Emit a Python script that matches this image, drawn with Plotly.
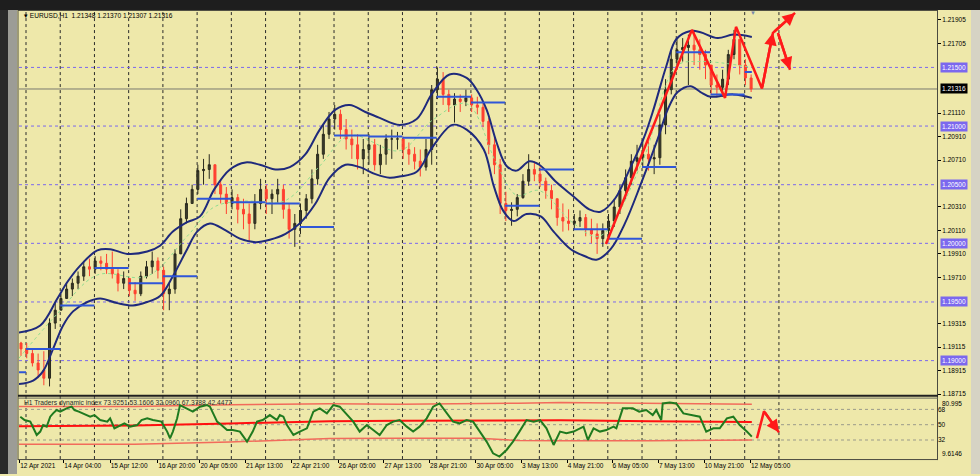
import plotly.graph_objects as go

W, H = 980, 476

# ---------------- DATA ----------------
# H1 candles aggregated in groups of 4 bars (first bar = 12 Apr 19:00)
first_open = 1.1915
close = [1.1910, 1.1906, 1.1898, 1.1892, 1.1885, 1.1932, 1.1943, 1.1953, 1.1961, 1.1966,
         1.1972, 1.1980, 1.1978, 1.1985, 1.1983, 1.1978, 1.1974, 1.1966, 1.1970, 1.1960,
         1.1957, 1.1972, 1.1980, 1.1985, 1.1977, 1.1957, 1.1961, 1.1991, 1.2021, 1.2034,
         1.2046, 1.2062, 1.2063, 1.2067, 1.2050, 1.2042, 1.2034, 1.2039, 1.2029, 1.2025,
         1.2017, 1.2034, 1.2046, 1.2038, 1.2042, 1.2046, 1.2029, 1.2012, 1.2017, 1.2028,
         1.2038, 1.2055, 1.2076, 1.2093, 1.2106, 1.2110, 1.2097, 1.2089, 1.2084, 1.2072,
         1.2080, 1.2084, 1.2067, 1.2076, 1.2089, 1.2089, 1.2089, 1.2080, 1.2076, 1.2070,
         1.2065, 1.2080, 1.2131, 1.2140, 1.2127, 1.2118, 1.2123, 1.2121, 1.2124, 1.2118,
         1.2116, 1.2104, 1.2084, 1.2067, 1.2034, 1.2028, 1.2029, 1.2039, 1.2053, 1.2063,
         1.2059, 1.2053, 1.2045, 1.2038, 1.2022, 1.2019, 1.2017, 1.2019, 1.2022, 1.2012,
         1.2008, 1.2004, 1.2011, 1.2019, 1.2031, 1.2045, 1.2056, 1.2070, 1.2073, 1.2076,
         1.2072, 1.2073, 1.2101, 1.2131, 1.2157, 1.2165, 1.2167, 1.2169, 1.2165, 1.2161,
         1.2152, 1.2135, 1.2133, 1.2140, 1.2161, 1.2174, 1.2152, 1.2141, 1.21316]
high = [1.1916, 1.1915, 1.1910, 1.1906, 1.1908, 1.1936, 1.1950, 1.1957, 1.1966, 1.1970,
        1.1976, 1.1985, 1.1987, 1.1989, 1.1989, 1.1991, 1.1993, 1.1978, 1.1976, 1.1970,
        1.1967, 1.1976, 1.1985, 1.1993, 1.1988, 1.1980, 1.1966, 1.1995, 1.2029, 1.2039,
        1.2050, 1.2067, 1.2072, 1.2076, 1.2067, 1.2055, 1.2048, 1.2046, 1.2042, 1.2038,
        1.2034, 1.2042, 1.2055, 1.2050, 1.2046, 1.2055, 1.2050, 1.2034, 1.2025, 1.2034,
        1.2042, 1.2063, 1.2084, 1.2101, 1.2112, 1.2118, 1.2114, 1.2106, 1.2097, 1.2093,
        1.2089, 1.2093, 1.2089, 1.2084, 1.2093, 1.2097, 1.2095, 1.2091, 1.2086, 1.2082,
        1.2080, 1.2089, 1.2135, 1.2150, 1.2146, 1.2131, 1.2128, 1.2127, 1.2131, 1.2127,
        1.2125, 1.2120, 1.2107, 1.2091, 1.2072, 1.2044, 1.2035, 1.2042, 1.2059, 1.2076,
        1.2070, 1.2066, 1.2056, 1.2050, 1.2038, 1.2034, 1.2029, 1.2025, 1.2028, 1.2025,
        1.2021, 1.2017, 1.2017, 1.2025, 1.2038, 1.2050, 1.2063, 1.2076, 1.2084, 1.2089,
        1.2087, 1.2084, 1.2110, 1.2140, 1.2165, 1.2174, 1.2175, 1.2178, 1.2182, 1.2174,
        1.2165, 1.2152, 1.2144, 1.2148, 1.2165, 1.2182, 1.2174, 1.2157, 1.2144]
low = [1.1904, 1.1902, 1.1895, 1.1885, 1.1879, 1.1878, 1.1927, 1.1943, 1.1953, 1.1955,
       1.1961, 1.1968, 1.1972, 1.1974, 1.1977, 1.1974, 1.1970, 1.1959, 1.1961, 1.1955,
       1.1951, 1.1955, 1.1970, 1.1974, 1.1970, 1.1943, 1.1943, 1.1957, 1.1991, 1.2017,
       1.2034, 1.2042, 1.2050, 1.2055, 1.2042, 1.2034, 1.2025, 1.2029, 1.2017, 1.2012,
       1.2002, 1.2012, 1.2029, 1.2025, 1.2025, 1.2034, 1.2021, 1.2004, 1.1997, 1.2008,
       1.2021, 1.2034, 1.2050, 1.2072, 1.2089, 1.2097, 1.2089, 1.2080, 1.2072, 1.2063,
       1.2059, 1.2067, 1.2062, 1.2059, 1.2067, 1.2072, 1.2080, 1.2072, 1.2067, 1.2063,
       1.2057, 1.2062, 1.2067, 1.2123, 1.2118, 1.2112, 1.2103, 1.2112, 1.2117, 1.2112,
       1.2110, 1.2099, 1.2076, 1.2059, 1.2025, 1.2019, 1.2015, 1.2023, 1.2038, 1.2049,
       1.2053, 1.2048, 1.2038, 1.2029, 1.2015, 1.2010, 1.2011, 1.2012, 1.2014, 1.2006,
       1.2000, 1.1991, 1.1997, 1.2004, 1.2014, 1.2025, 1.2038, 1.2050, 1.2062, 1.2065,
       1.2062, 1.2059, 1.2067, 1.2093, 1.2127, 1.2148, 1.2155, 1.2135, 1.2152, 1.2148,
       1.2140, 1.2127, 1.2125, 1.2125, 1.2135, 1.2157, 1.2144, 1.2135, 1.2129]
BARS_PER_CANDLE = 4

# Envelope channel (bar index, price)
upper_bar = [0, 15, 27, 34, 43, 55, 64, 76, 90, 99, 108, 118, 127, 137, 148, 159, 169, 180, 190,
             201, 211, 222, 232, 243, 253, 267, 279, 290, 302, 314, 321, 328, 335, 342, 349, 358,
             365, 377, 389, 400, 408, 418, 429, 438, 445, 454, 461, 471, 478, 490, 501, 514]
upper = [1.1924, 1.1930, 1.1953, 1.1967, 1.1981, 1.1994, 1.1995, 1.1991, 1.1993, 1.1998,
         1.2010, 1.2018, 1.2023, 1.2046, 1.2063, 1.2069, 1.2067, 1.2063, 1.2065, 1.2076,
         1.2097, 1.2114, 1.2118, 1.2112, 1.2107, 1.2101, 1.2106, 1.2128, 1.2144, 1.2141,
         1.2131, 1.2114, 1.2086, 1.2066, 1.2062, 1.2070, 1.2067, 1.2052, 1.2040, 1.2029,
         1.2027, 1.2038, 1.2065, 1.2089, 1.2114, 1.2151, 1.2174, 1.2181, 1.2180, 1.2175,
         1.2178, 1.2176]
lower_bar = [0, 10, 17, 24, 31, 38, 48, 57, 69, 80, 90, 99, 108, 118, 125, 134, 145, 155, 166,
             176, 187, 197, 208, 218, 229, 239, 250, 260, 267, 279, 290, 304, 314, 326, 333, 340,
             347, 356, 366, 375, 387, 397, 405, 415, 425, 436, 448, 455, 462, 471, 478, 485,
             501, 514]
lower = [1.1880, 1.1883, 1.1891, 1.1910, 1.1930, 1.1942, 1.1950, 1.1953, 1.1949, 1.1947,
         1.1950, 1.1955, 1.1972, 1.1995, 1.2010, 1.2017, 1.2011, 1.2004, 1.2001, 1.2003,
         1.2008, 1.2017, 1.2034, 1.2056, 1.2067, 1.2065, 1.2059, 1.2056, 1.2057, 1.2061,
         1.2082, 1.2101, 1.2097, 1.2080, 1.2049, 1.2027, 1.2019, 1.2025, 1.2023, 1.2010,
         1.1995, 1.1989, 1.1986, 1.1995, 1.2017, 1.2050, 1.2089, 1.2114, 1.2129, 1.2134,
         1.2129, 1.2125, 1.2127, 1.2124]
mid_bar = [0, 27, 55, 90, 118, 137, 158, 186, 211, 232, 267, 290, 314, 335, 349, 365, 388, 407,
           437, 461, 478, 514]
mid = [1.1902, 1.1940, 1.1973, 1.1972, 1.2006, 1.2031, 1.2036, 1.2036, 1.2066, 1.2092,
       1.2079, 1.2105, 1.2119, 1.2068, 1.2041, 1.2045, 1.2018, 1.2006, 1.2069, 1.2151,
       1.2155, 1.2150]

# Daily level segments (12 Apr partial, then one per trading day)
level_start = [0, 5, 29, 53, 77, 101, 125, 149, 173, 197, 221, 245, 269, 293, 317, 341, 365,
               389, 413, 437, 461, 485, 509]
level_price = [1.1890, 1.1910, 1.1947, 1.1979, 1.1966, 1.1972, 1.2038, 1.2035, 1.2034, 1.2014,
               1.2092, 1.2091, 1.2090, 1.2125, 1.2120, 1.2032, 1.2063, 1.2012, 1.2004, 1.2065,
               1.2163, 1.2127, 1.2146]
last_bar = 514

# Day separators (bar index of each day start)
day_sep = [5 + 24 * k for k in range(23)]

# Axis labels
price_ticks = [1.21905, 1.21705, 1.21110, 1.20910, 1.20710, 1.20310, 1.20110, 1.19910,
               1.19710, 1.19315, 1.19115, 1.18915, 1.18715]
round_levels = [1.21500, 1.21000, 1.20500, 1.20000, 1.19500, 1.19000]
current_price = 1.21316
time_labels = ["12 Apr 2021", "14 Apr 04:00", "15 Apr 12:00", "16 Apr 20:00", "20 Apr 05:00",
               "21 Apr 13:00", "22 Apr 21:00", "26 Apr 05:00", "27 Apr 13:00", "28 Apr 21:00",
               "30 Apr 05:00", "3 May 13:00", "4 May 21:00", "6 May 05:00", "7 May 13:00",
               "10 May 21:00", "12 May 05:00"]
time_label_bar = [0.6, 31.5, 64, 97.5, 127, 159, 191.5, 224, 256, 288, 320.5, 352.5, 384.5,
                  416, 448.5, 480.5, 513]

# Traders Dynamic Index (bar, value)
tdi_bar = [1, 4, 8, 10, 12.5, 15, 17, 19.5, 22, 24, 26.5, 29, 33.5, 37, 39, 42, 45, 50, 53, 57,
           62, 64, 67, 71, 74, 78, 83, 86, 90, 94, 100, 104, 106, 108, 111, 113, 118, 122, 127,
           132, 134, 139, 142, 146, 150, 155, 160, 164, 167, 171, 176, 181, 183, 185.5, 188, 192.5,
           197, 202, 206.5, 211, 216, 220.5, 225, 230, 234.5, 239, 244, 248.5, 253, 258, 262.5,
           267, 272, 276.5, 281, 286, 290.5, 295, 300, 304.5, 309, 314, 318.5, 323, 328, 332.5,
           337, 342, 346.5, 351, 356, 361, 365.5, 370, 375, 379.5, 384, 389, 396, 399, 403, 407.5,
           412, 417, 419, 423.5, 430.5, 435, 440, 444.5, 447, 450.5, 451.5, 456.5, 461, 466, 473,
           477.5, 482, 487, 491.5, 496.5, 501, 505.5, 510.5, 514]
tdi_val = [59.4, 55.5, 53.6, 45.7, 37.9, 41.9, 49.6, 47.7, 59.4, 63.3, 67.2, 65.3, 69.2, 71.2,
           67.2, 65.3, 63.3, 59.4, 61.3, 55.5, 53.6, 57.5, 45.7, 49.6, 51.6, 47.7, 49.6, 55.5,
           57.5, 55.5, 53.6, 41.9, 34.0, 41.9, 57.5, 73.0, 69.2, 65.3, 71.2, 73.0, 71.2, 53.6,
           49.6, 43.7, 43.7, 41.9, 30.1, 41.9, 53.6, 55.5, 61.3, 55.5, 61.3, 59.4, 49.6, 37.9,
           41.9, 45.7, 65.3, 69.2, 63.3, 73.0, 71.2, 61.3, 53.6, 41.9, 49.6, 43.7, 37.9, 49.6,
           53.6, 55.5, 47.7, 41.9, 47.7, 57.5, 71.2, 75.0, 63.3, 53.6, 51.6, 55.5, 53.6, 41.9,
           30.1, 16.4, 12.6, 20.3, 30.1, 41.9, 55.5, 53.6, 55.5, 45.7, 26.2, 41.9, 39.9, 41.9,
           47.7, 32.0, 45.7, 41.9, 43.7, 47.7, 45.7, 69.2, 69.2, 65.3, 67.2, 61.3, 67.2, 55.5,
           75.0, 76.2, 75.0, 63.3, 61.3, 59.4, 41.9, 45.7, 45.7, 57.5, 59.4, 49.6, 41.9, 36.0]
tdi_band_bar = [0, 81, 148, 218, 267, 323, 350, 380, 443, 514]
tdi_upper = [71.5, 71.5, 73.3, 74.7, 73.9, 74.5, 75.2, 76.2, 75.0, 73.9]
tdi_middle = [48.1, 49.2, 51.5, 54.0, 54.5, 54.8, 54.9, 55.1, 54.0, 53.2]
tdi_lower = [27.0, 27.0, 29.7, 33.7, 34.0, 34.0, 31.5, 31.1, 31.2, 32.1]
tdi_levels = [68, 50, 32]
tdi_range = [9.6146, 80.995]

# Hand-drawn red forecast lines
draw_bar = [411.7, 472.0, 495.2, 502.9, 521.1, 528.8, 544.3]
draw_price = [1.19995, 1.2182, 1.2124, 1.21846, 1.2132, 1.21795, 1.21965]
branch_bar = [532.3, 540.8]
branch_price = [1.21795, 1.2148]
ind_draw_bar = [517.6, 522.5, 533.0]
ind_draw_val = [34.0, 65.7, 41.0]

# ---------------- LAYOUT HELPERS ----------------
def px(x):
    return x / W

def py(y):
    return 1 - y / H

MAIN_L, MAIN_R = 19, 937
MAIN_T, MAIN_B = 11, 397
IND_T, IND_B = 400, 461
BAR_PX = 1.426
X0_PX = 18.87
x_range = [(MAIN_L - X0_PX) / BAR_PX, (MAIN_R - X0_PX) / BAR_PX]
y_range = [1.18715 - (MAIN_B - 395.7) / 11777, 1.21905 + (20 - MAIN_T) / 11777]

FONT = "Liberation Sans, Arial, sans-serif"
BG = "#EEE8AA"

opens = [first_open] + close[:-1]
cx = [BARS_PER_CANDLE * g + 1.5 for g in range(len(close))]

fig = go.Figure()

fig.add_trace(go.Candlestick(
    x=cx, open=opens, high=high, low=low, close=close,
    increasing=dict(line=dict(color="#2a2a1e", width=1), fillcolor="#3c3c2c"),
    decreasing=dict(line=dict(color="#ff4030", width=1), fillcolor="#ff4030"),
    whiskerwidth=0, xaxis="x", yaxis="y", hoverinfo="skip", showlegend=False))

fig.add_trace(go.Scatter(x=mid_bar, y=mid, mode="lines", xaxis="x", yaxis="y",
                         line=dict(color="#8fdc8f", width=1, dash="dot", shape="spline"),
                         hoverinfo="skip", showlegend=False))
for bx, by in ((upper_bar, upper), (lower_bar, lower)):
    fig.add_trace(go.Scatter(x=bx, y=by, mode="lines", xaxis="x", yaxis="y",
                             line=dict(color="#1f2a7c", width=2, shape="spline", smoothing=1.0),
                             hoverinfo="skip", showlegend=False))

seg_x, seg_y = [], []
ends = level_start[1:] + [last_bar]
for s, e, p in zip(level_start, ends, level_price):
    seg_x += [s, e, None]
    seg_y += [p, p, None]
fig.add_trace(go.Scatter(x=seg_x, y=seg_y, mode="lines", xaxis="x", yaxis="y",
                         line=dict(color="#2f56d8", width=2), hoverinfo="skip", showlegend=False))

# red drawings
fig.add_trace(go.Scatter(x=draw_bar, y=draw_price, mode="lines", xaxis="x", yaxis="y",
                         line=dict(color="#ff1a1a", width=2.5), hoverinfo="skip", showlegend=False))
fig.add_trace(go.Scatter(x=branch_bar, y=branch_price, mode="lines", xaxis="x", yaxis="y",
                         line=dict(color="#ff1a1a", width=2.5), hoverinfo="skip", showlegend=False))

# indicator
fig.add_trace(go.Scatter(x=tdi_band_bar, y=tdi_upper, mode="lines", xaxis="x2", yaxis="y2",
                         line=dict(color="#f26b5b", width=1.5), hoverinfo="skip", showlegend=False))
fig.add_trace(go.Scatter(x=tdi_band_bar, y=tdi_lower, mode="lines", xaxis="x2", yaxis="y2",
                         line=dict(color="#f26b5b", width=1.5), hoverinfo="skip", showlegend=False))
fig.add_trace(go.Scatter(x=tdi_band_bar, y=tdi_middle, mode="lines", xaxis="x2", yaxis="y2",
                         line=dict(color="#ff1010", width=2), hoverinfo="skip", showlegend=False))
fig.add_trace(go.Scatter(x=tdi_bar, y=tdi_val, mode="lines", xaxis="x2", yaxis="y2",
                         line=dict(color="#1f7a1f", width=2), hoverinfo="skip", showlegend=False))
fig.add_trace(go.Scatter(x=ind_draw_bar, y=ind_draw_val, mode="lines", xaxis="x2", yaxis="y2",
                         line=dict(color="#ff1a1a", width=2.5), hoverinfo="skip", showlegend=False))

shapes = []
for d in day_sep:
    shapes.append(dict(type="line", xref="x", yref="paper", x0=d, x1=d,
                       y0=py(IND_B), y1=py(MAIN_T), layer="below",
                       line=dict(color="#2a2a2a", width=1, dash="dot")))
for lv in round_levels:
    shapes.append(dict(type="line", xref="paper", yref="y", x0=px(MAIN_L), x1=px(MAIN_R),
                       y0=lv, y1=lv, layer="below",
                       line=dict(color="#7b68ee", width=1, dash="dot")))
shapes.append(dict(type="line", xref="paper", yref="y", x0=px(MAIN_L), x1=px(MAIN_R),
                   y0=current_price, y1=current_price, layer="below",
                   line=dict(color="#7a7a70", width=1)))
for lv in tdi_levels:
    shapes.append(dict(type="line", xref="paper", yref="y2", x0=px(MAIN_L), x1=px(MAIN_R),
                       y0=lv, y1=lv, layer="below",
                       line=dict(color="#9a9a8a", width=1, dash="dot")))

def rect(x0, y0, x1, y1, color):
    return dict(type="rect", xref="paper", yref="paper", x0=px(x0), x1=px(x1),
                y0=py(y1), y1=py(y0), fillcolor=color, line=dict(width=0), layer="above")

def hline(x0, x1, y, color, w=1):
    return dict(type="line", xref="paper", yref="paper", x0=px(x0), x1=px(x1),
                y0=py(y), y1=py(y), line=dict(color=color, width=w), layer="above")

def vline(x, y0, y1, color, w=1):
    return dict(type="line", xref="paper", yref="paper", x0=px(x), x1=px(x),
                y0=py(y1), y1=py(y0), line=dict(color=color, width=w), layer="above")

shapes.append(rect(0, 0, 980, 10, "#1e1e1e"))
shapes.append(rect(0, 10, 8, 476, "#2a2a2a"))
shapes.append(rect(8, 10, 17, 476, "#9c9c96"))
shapes.append(rect(971, 10, 980, 476, "#d6d3c4"))
shapes.append(vline(18, 10, 462, "#4a4a40"))
shapes.append(hline(18, 938, 10.5, "#4a4a40"))
shapes.append(vline(937.5, 10, 462, "#4a4a40"))
shapes.append(hline(18, 938, 397.5, "#202020", 2))
shapes.append(hline(18, 938, 399.8, "#6a6a60", 1))
shapes.append(hline(18, 938, 461.5, "#4a4a40"))

annotations = []
annotations.append(dict(xref="paper", yref="paper", x=px(22), y=py(16), xanchor="left",
                        yanchor="middle", showarrow=False,
                        text="▾ EURUSD,H1  1.21348 1.21370 1.21307 1.21316",
                        font=dict(family=FONT, size=6.6, color="#000000")))
annotations.append(dict(xref="paper", yref="paper", x=px(22), y=py(404.5), xanchor="left",
                        yanchor="middle", showarrow=False,
                        text="H1 Traders dynamic index 73.9251 53.1606 32.0960 67.3788 42.4477",
                        font=dict(family=FONT, size=6.7, color="#2a2a2a")))
annotations.append(dict(xref="paper", yref="paper", x=px(753), y=py(13), xanchor="center",
                        yanchor="middle", showarrow=False, text="▼",
                        font=dict(family=FONT, size=6, color="#7788aa")))
for lv in round_levels:
    annotations.append(dict(xref="paper", yref="y", x=px(940), y=lv, xanchor="left",
                            yanchor="middle", showarrow=False, text=f"{lv:.5f}",
                            bgcolor="#7b68ee", borderpad=1,
                            font=dict(family=FONT, size=6.5, color="#ffffff")))
annotations.append(dict(xref="paper", yref="y", x=px(940), y=current_price, xanchor="left",
                        yanchor="middle", showarrow=False, text=f"{current_price:.5f}",
                        bgcolor="#000000", borderpad=1,
                        font=dict(family=FONT, size=6.5, color="#ffffff")))
annotations.append(dict(xref="paper", yref="y2", x=px(940), y=tdi_range[1], xanchor="left",
                        yanchor="top", showarrow=False, text="80.995",
                        font=dict(family=FONT, size=6.5, color="#000000")))
annotations.append(dict(xref="paper", yref="y2", x=px(940), y=tdi_range[0], xanchor="left",
                        yanchor="bottom", showarrow=False, text="9.6146",
                        font=dict(family=FONT, size=6.5, color="#000000")))

def arrow(xref, yref, x0, y0, x1, y1):
    return dict(xref=xref, yref=yref, axref=xref, ayref=yref, x=x1, y=y1, ax=x0, ay=y0,
                showarrow=True, arrowhead=2, arrowsize=1.0, arrowwidth=2.5,
                arrowcolor="#ff1a1a", text="")
annotations.append(arrow("x", "y", draw_bar[4], draw_price[4], draw_bar[5], draw_price[5]))
annotations.append(arrow("x", "y", draw_bar[5], draw_price[5], draw_bar[6], draw_price[6]))
annotations.append(arrow("x", "y", branch_bar[0], branch_price[0], branch_bar[1], branch_price[1]))
annotations.append(arrow("x2", "y2", ind_draw_bar[1], ind_draw_val[1], ind_draw_bar[2], ind_draw_val[2]))

fig.update_layout(
    width=W, height=H, margin=dict(l=0, r=0, t=0, b=0),
    paper_bgcolor=BG, plot_bgcolor=BG, showlegend=False, hovermode=False,
    boxgap=0.65, boxgroupgap=0.0,
    xaxis=dict(domain=[px(MAIN_L), px(MAIN_R)], range=x_range, anchor="y",
               showticklabels=False, showgrid=False, zeroline=False, showline=False,
               rangeslider=dict(visible=False), fixedrange=True),
    yaxis=dict(domain=[py(MAIN_B), py(MAIN_T)], range=y_range, anchor="x", side="right",
               tickvals=price_ticks, ticktext=[f"{v:.5f}" for v in price_ticks],
               ticks="outside", ticklen=3, tickcolor="#000000", tickwidth=1,
               tickfont=dict(family=FONT, size=6.5, color="#000000"),
               showgrid=False, zeroline=False, showline=False, fixedrange=True),
    xaxis2=dict(domain=[px(MAIN_L), px(MAIN_R)], range=x_range, anchor="y2", matches="x",
                tickvals=time_label_bar, ticktext=time_labels, ticks="outside", ticklen=3,
                tickcolor="#000000", ticklabelposition="outside right", tickangle=0,
                tickfont=dict(family=FONT, size=6.5, color="#000000"),
                showgrid=False, zeroline=False, showline=False, fixedrange=True),
    yaxis2=dict(domain=[py(IND_B), py(IND_T)], range=tdi_range, anchor="x2", side="right",
                tickvals=tdi_levels, ticktext=[str(v) for v in tdi_levels], ticks="",
                tickfont=dict(family=FONT, size=6.5, color="#000000"),
                showgrid=False, zeroline=False, showline=False, fixedrange=True),
    shapes=shapes, annotations=annotations,
)

fig.write_html("out.html", config={"displayModeBar": False, "staticPlot": True},
               post_script="document.body.style.margin='0';")
